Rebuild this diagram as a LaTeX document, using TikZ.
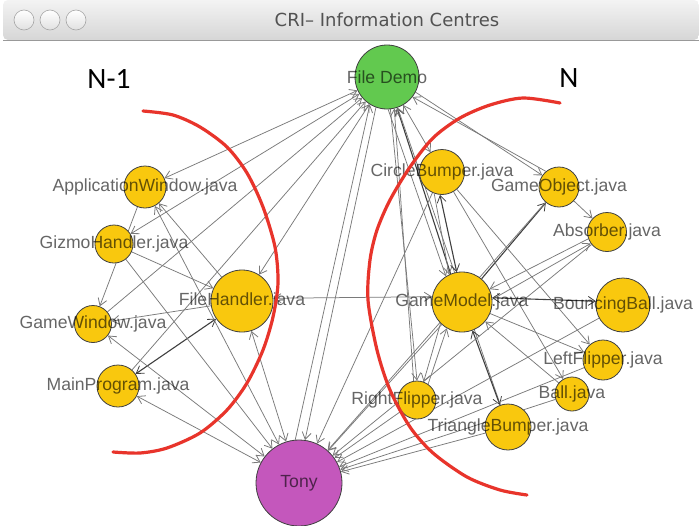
\documentclass[tikz,border=0pt]{standalone}
\usepackage{fontspec}
\setmainfont{Liberation Sans}
\newfontfamily\titlefont{DejaVu Sans}
\newfontfamily\markfont{Carlito}
\usetikzlibrary{arrows.meta,backgrounds}
\definecolor{fileyellow}{HTML}{F9C80E}
\definecolor{demogreen}{HTML}{62C94F}
\definecolor{tonypurple}{HTML}{C457BC}
\definecolor{arcred}{HTML}{E8342B}
\definecolor{barlight}{HTML}{F3F3F3}
\definecolor{bardark}{HTML}{D6D6D6}
\begin{document}
\begin{tikzpicture}[x=1pt,y=-1pt,
  barb/.tip={Straight Barb[length=7pt,width=9pt,line width=0.8pt]},
  vertex/.style={circle, draw=black!75, line width=0.8pt, inner sep=0pt},
  filenode/.style={vertex, fill=fileyellow},
  flabel/.style={text=black, text opacity=0.6, inner sep=0pt,
    font=\fontsize{17.6}{20}\selectfont},
  link/.style={draw=black!52, line width=0.75pt, -barb},
  both/.style={link, barb-barb},
  strong/.style={draw=black!75, line width=1.1pt},
  winbtn/.style={circle, draw=black!35, line width=0.6pt, top color=white, bottom color=black!12, minimum size=20pt, inner sep=0pt},
  groupmark/.style={font=\markfont\fontsize{29.5}{32}\selectfont, text=black, inner sep=0pt},
  boundary/.style={draw=arcred, line width=3.2pt, line cap=round}
]
\useasboundingbox (0,0) rectangle (699,525);
\begin{scope}[on background layer]
  \fill[white] (0,0) rectangle (699,525);
\end{scope}

% window title bar
\shade[top color=barlight, bottom color=bardark, rounded corners=5pt] (3,0) -- (3,40) -- (699,40) -- (699,0) -- cycle;
\draw[black!40, line width=0.8pt] (3,40) -- (699,40);
\node[winbtn] (btnclose) at (24,20) {};
\node[winbtn] (btnmin) at (50,20) {};
\node[winbtn] (btnzoom) at (76,20) {};
\node[text=black!68, font=\titlefont\fontsize{18}{20}\selectfont] (wintitle) at (387,20) {CRI– Information Centres};

% group captions
\node[groupmark] (prevgroup) at (109,79) {N-1};
\node[groupmark] (curgroup) at (569,78) {N};

% hub nodes
\node[vertex, fill=demogreen, minimum size=64pt, label={[flabel]center:File Demo}] (fd) at (387,77) {};
\node[vertex, fill=tonypurple, minimum size=86pt, label={[flabel]center:Tony}] (tony) at (299,483) {};

% files of the previous group
\node[filenode, minimum size=42pt, label={[flabel]center:ApplicationWindow.java}] (aw) at (145,187) {};
\node[filenode, minimum size=38pt, label={[flabel]center:GizmoHandler.java}] (gh) at (114,244) {};
\node[filenode, minimum size=62pt, label={[flabel]center:FileHandler.java}] (fh) at (242,301) {};
\node[filenode, minimum size=37pt, label={[flabel]center:GameWindow.java}] (gw) at (93,324) {};
\node[filenode, minimum size=42pt, label={[flabel]center:MainProgram.java}] (mp) at (118,386) {};

% files of the current group
\node[filenode, minimum size=45pt, label={[flabel]center:CircleBumper.java}] (cb) at (442,172) {};
\node[filenode, minimum size=40pt, label={[flabel]center:GameObject.java}] (go) at (559,187) {};
\node[filenode, minimum size=39pt, label={[flabel]center:Absorber.java}] (ab) at (607,232) {};
\node[filenode, minimum size=60pt, label={[flabel]center:GameModel.java}] (gm) at (462,302) {};
\node[filenode, minimum size=54pt, label={[flabel]center:BouncingBall.java}] (bb) at (623,305) {};
\node[filenode, minimum size=40pt, label={[flabel]center:LeftFlipper.java}] (lf) at (603,360) {};
\node[filenode, minimum size=34pt, label={[flabel]center:Ball.java}] (ball) at (572,394) {};
\node[filenode, minimum size=38pt, label={[flabel]center:RightFlipper.java}] (rf) at (417,400) {};
\node[filenode, minimum size=46pt, label={[flabel]center:TriangleBumper.java}] (tb) at (508,427) {};

\begin{scope}[on background layer]
  % links around File Demo
  \draw[both] (fd) -- (aw);
  \draw[both] (fd) -- (gh);
  \draw[both] (fd) -- (fh);
  \draw[link] (gw) -- (fd);
  \draw[link] (mp) -- (fd);
  \draw[link] (fd.250) -- (tony.82);
  \draw[link] (tony.95) -- (fd.238);
  \draw[both] (cb) -- (fd);
  \draw[link, strong] (gm.112) -- (fd.288);
  \draw[link] (fd.272) -- (gm.122);
  \draw[link] (rf.100) -- (fd.283);
  \draw[link] (fd.276) -- (rf.90);
  \draw[link] (tb) -- (fd);
  \draw[link] (fd.-28) -- (go.145);
  \draw[link] (go.130) -- (fd.-38);

  % links inside the previous group
  \draw[link] (fh) -- (aw);
  \draw[link] (aw) -- (gw);
  \draw[link] (gh) -- (fh);
  \draw[link] (fh) -- (gw);
  \draw[both, strong] (fh) -- (mp);
  \draw[both] (gm.170) -- (fh.5);

  % links towards Tony from the previous group
  \draw[both] (tony) -- (aw);
  \draw[link] (gh) -- (tony);
  \draw[both] (tony) -- (gw);
  \draw[both] (tony) -- (mp);
  \draw[both] (tony) -- (fh);

  % links inside the current group
  \draw[both, strong] (cb.265) -- (gm.100);
  \draw[link] (cb.250) -- (gm.115);
  \draw[link, strong] (gm) -- (go);
  \draw[link] (go) -- (ab);
  \draw[link] (ab.200) -- (gm.25);
  \draw[link] (gm.5) -- (ab.215);
  \draw[both, strong] (gm.8) -- (bb.172);
  \draw[link] (gm) -- (lf);
  \draw[link] (cb) -- (lf);
  \draw[link] (ball) -- (gm);
  \draw[link] (cb) -- (ball);
  \draw[both, strong] (gm) -- (tb);
  \draw[link] (gm.225) -- (rf.70);
  \draw[link] (rf.55) -- (gm.240);

  % links towards Tony from the current group
  \draw[link] (cb) -- (tony);
  \draw[link] (go) -- (tony);
  \draw[link] (ab) -- (tony);
  \draw[link] (gm) -- (tony);
  \draw[link] (bb) -- (tony);
  \draw[link] (lf) -- (tony);
  \draw[link] (ball) -- (tony);
  \draw[link] (tb) -- (tony);
  \draw[link] (rf) -- (tony);
\end{scope}

% group boundaries
\draw[boundary] plot[smooth] coordinates {(143,111) (173,115) (200,127) (227,147) (247,173) (263,207) (275,247) (278,283) (273,317) (263,350) (247,383) (227,410) (200,433) (167,448) (140,453) (113,452)};
\draw[boundary] plot[smooth] coordinates {(560,103) (523,98) (490,105) (460,118) (433,138) (410,167) (390,200) (377,230) (370,260) (368,300) (377,350) (390,390) (410,427) (433,453) (467,477) (500,490) (527,495)};
\end{tikzpicture}
\end{document}
